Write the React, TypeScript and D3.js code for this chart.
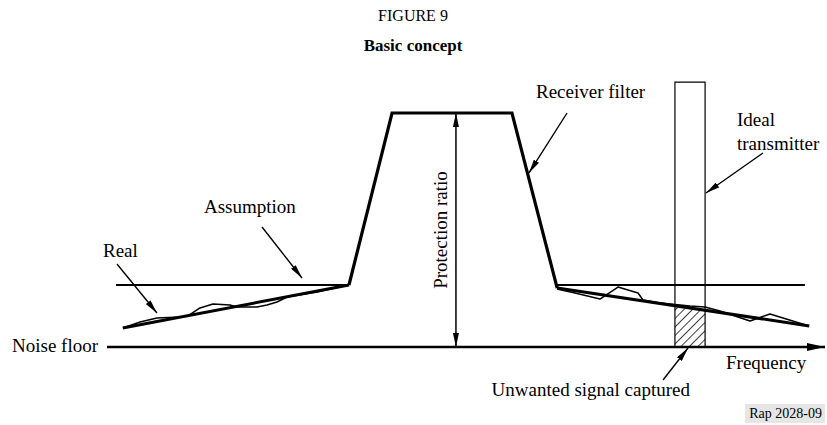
import React from "react";
import * as d3 from "d3";

// ---- data (abstract units: frequency 0..100, level 0..100 where 100 = filter top) ----
const filterFreq = [33.7, 39.7, 56.4, 62.7];
const filterLevel = [26.5, 100, 100, 25.2];

const assumptionLeftFreq = [1.25, 33.7];
const assumptionRightFreq = [62.4, 97.2];
const assumptionLevel = 26.5;

const slopeLeftFreq = [2.2, 33.7];
const slopeLeftLevel = [8.1, 26.5];
const slopeRightFreq = [62.7, 97.8];
const slopeRightLevel = [25.2, 9.0];

const realLeftFreq = [2.23, 4.6, 6.96, 10.17, 11.28, 12.95, 14.76, 17.13, 18.11, 20.89, 22.28, 23.68, 25.07, 29.25, 33.7];
const realLeftLevel = [8.12, 10.68, 12.39, 12.82, 13.25, 16.67, 18.38, 17.95, 17.09, 17.09, 17.95, 19.23, 21.37, 23.5, 26.5];
const realRightFreq = [62.67, 65.18, 68.66, 71.17, 73.96, 74.65, 77.02, 81.2, 83.29, 85.38, 89.55, 92.34, 97.77];
const realRightLevel = [24.79, 23.08, 20.51, 25.64, 23.08, 20.09, 18.8, 17.52, 17.09, 15.38, 11.11, 14.1, 8.97];

const transmitterFreq = [79.1, 83.3];
const transmitterTop = 113.2;

const protectionFreq = 48.6;
const protectionLevel = [100, 0];

const floorFreq = [0, 100];

const annotationNames = ["Receiver filter", "Ideal transmitter", "Assumption", "Real", "Unwanted signal captured"];
const annotationFrom = [[64.07, 100], [91.36, 82.9], [21.59, 51.28], [1.39, 35.47], [77.44, -14.1]];
const annotationTo = [[58.77, 74.36], [83.43, 65.8], [27.16, 29.49], [6.96, 14.53], [80.92, -0.43]];

const W = 827;
const H = 425;

export default function App() {
  const x = d3.scaleLinear().domain([0, 100]).range([107, 825]);
  const y = d3.scaleLinear().domain([0, 100]).range([347, 113]);

  const line = d3
    .line<[number, number]>()
    .x((d) => x(d[0]))
    .y((d) => y(d[1]));

  const zip = (a: number[], b: number[]) => a.map((v, i) => [v, b[i]] as [number, number]);

  const slopeR = d3.scaleLinear().domain(slopeRightFreq).range(slopeRightLevel);
  const hatchPts: [number, number][] = [
    [transmitterFreq[0], slopeR(transmitterFreq[0])],
    [transmitterFreq[1], slopeR(transmitterFreq[1])],
    [transmitterFreq[1], 0],
    [transmitterFreq[0], 0],
  ];

  const font = "'Liberation Serif', 'Times New Roman', serif";
  const fs = 19;

  return (
    <svg
      width={W}
      height={H}
      viewBox={`0 0 ${W} ${H}`}
      style={{ position: "absolute", left: 0, top: 0, background: "#fff" }}
      fontFamily={font}
    >
      <defs>
        <marker id="ah" viewBox="0 0 14 6" refX="14" refY="3" markerWidth="14" markerHeight="6" markerUnits="userSpaceOnUse" orient="auto-start-reverse">
          <path d="M0,0 L14,3 L0,6 z" fill="#000" />
        </marker>
        <marker id="ahBig" viewBox="0 0 18 8" refX="18" refY="4" markerWidth="18" markerHeight="8" markerUnits="userSpaceOnUse" orient="auto-start-reverse">
          <path d="M0,0 L18,4 L0,8 z" fill="#000" />
        </marker>
        <pattern id="hatch" patternUnits="userSpaceOnUse" width="6" height="6" patternTransform="rotate(45)">
          <line x1="0" y1="0" x2="0" y2="6" stroke="#000" strokeWidth="1.5" />
        </pattern>
      </defs>

      {/* Titles */}
      <text x={413} y={21} textAnchor="middle" fontSize={16}>FIGURE 9</text>
      <text x={413} y={51} textAnchor="middle" fontSize={17} fontWeight="bold">Basic concept</text>

      {/* hatch area */}
      <path d={line(hatchPts)! + "Z"} fill="url(#hatch)" stroke="none" />

      {/* transmitter rectangle (open at bottom) */}
      <path
        d={line([
          [transmitterFreq[0], 0],
          [transmitterFreq[0], transmitterTop],
          [transmitterFreq[1], transmitterTop],
          [transmitterFreq[1], 0],
        ])!}
        fill="none"
        stroke="#000"
        strokeWidth={1.2}
      />

      {/* assumption horizontal lines */}
      <path d={line(assumptionLeftFreq.map((f) => [f, assumptionLevel] as [number, number]))!} stroke="#000" strokeWidth={2} fill="none" />
      <path d={line(assumptionRightFreq.map((f) => [f, assumptionLevel] as [number, number]))!} stroke="#000" strokeWidth={2} fill="none" />

      {/* real noisy lines */}
      <path d={line(zip(realLeftFreq, realLeftLevel))!} stroke="#000" strokeWidth={1.5} fill="none" strokeLinejoin="round" />
      <path d={line(zip(realRightFreq, realRightLevel))!} stroke="#000" strokeWidth={1.5} fill="none" strokeLinejoin="round" />

      {/* slopes */}
      <path d={line(zip(slopeLeftFreq, slopeLeftLevel))!} stroke="#000" strokeWidth={3} fill="none" />
      <path d={line(zip(slopeRightFreq, slopeRightLevel))!} stroke="#000" strokeWidth={3} fill="none" />

      {/* receiver filter */}
      <path d={line(zip(filterFreq, filterLevel))!} stroke="#000" strokeWidth={3.2} fill="none" strokeLinejoin="miter" />

      {/* noise floor / frequency axis */}
      <path d={line(floorFreq.map((f) => [f, 0] as [number, number]))!} stroke="#000" strokeWidth={2.5} fill="none" markerEnd="url(#ahBig)" />

      {/* protection ratio double arrow */}
      <path
        d={line(protectionLevel.map((l) => [protectionFreq, l] as [number, number]))!}
        stroke="#000"
        strokeWidth={1.5}
        fill="none"
        markerStart="url(#ah)"
        markerEnd="url(#ah)"
      />
      <text
        transform={`translate(${x(protectionFreq) - 9},${(y(protectionLevel[0]) + y(protectionLevel[1])) / 2}) rotate(-90)`}
        textAnchor="middle"
        fontSize={fs}
      >
        Protection ratio
      </text>

      {/* annotation arrows */}
      {annotationNames.map((n, i) => (
        <path
          key={n}
          d={line([annotationFrom[i] as [number, number], annotationTo[i] as [number, number]])!}
          stroke="#000"
          strokeWidth={1.4}
          fill="none"
          markerEnd="url(#ah)"
        />
      ))}

      {/* labels */}
      <text x={536} y={98} fontSize={fs}>Receiver filter</text>
      <text x={737} y={126} fontSize={fs}>Ideal</text>
      <text x={737} y={150} fontSize={fs}>transmitter</text>
      <text x={204} y={213} fontSize={fs}>Assumption</text>
      <text x={103} y={257} fontSize={fs}>Real</text>
      <text x={12} y={352} fontSize={fs}>Noise floor</text>
      <text x={726} y={369} fontSize={fs}>Frequency</text>
      <text x={690} y={396} fontSize={fs} textAnchor="end">Unwanted signal captured</text>

      <rect x={745} y={404} width={80} height={19} fill="#e6e6e6" />
      <text x={822} y={418} fontSize={14} textAnchor="end">Rap 2028-09</text>
    </svg>
  );
}
